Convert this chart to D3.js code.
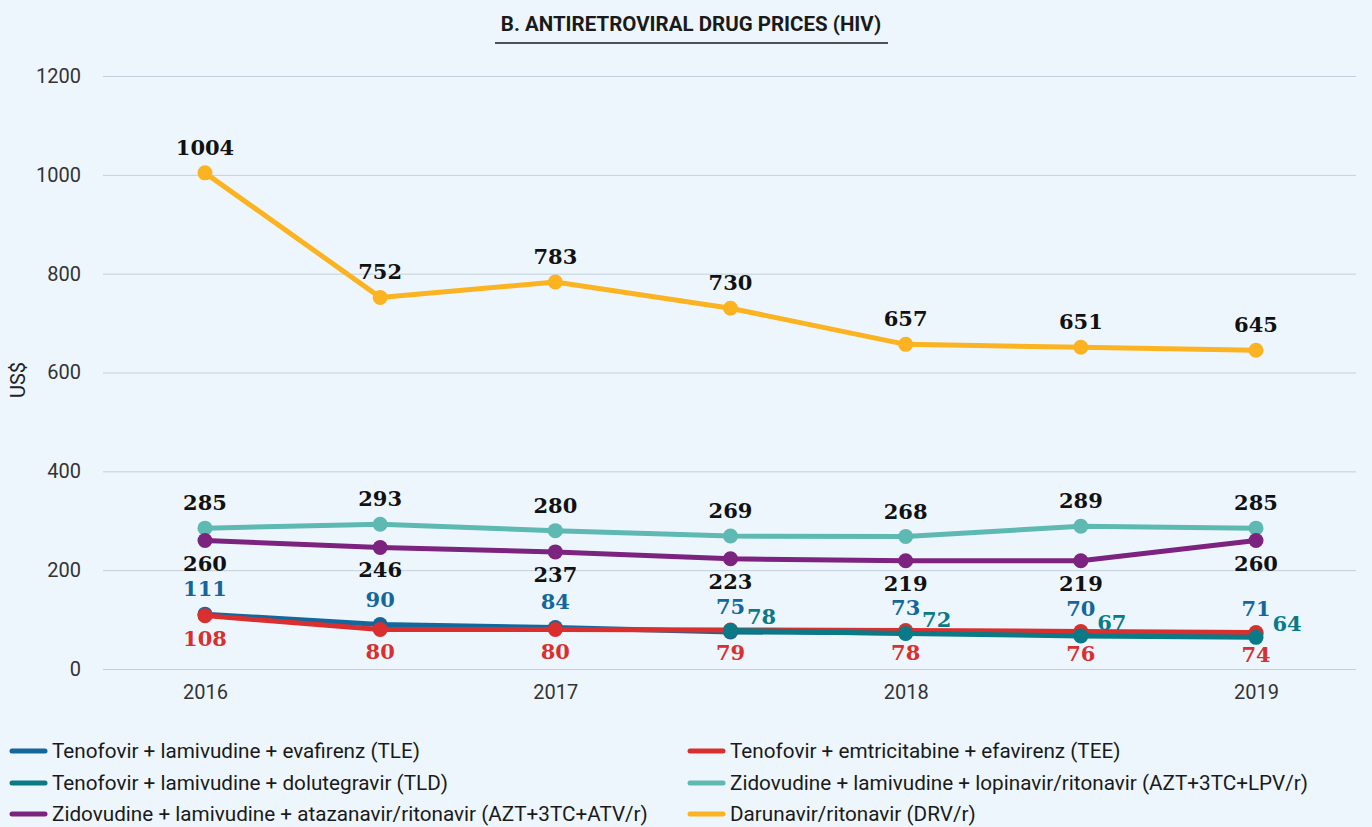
<!DOCTYPE html>
<html>
<head>
<meta charset="utf-8">
<script src="https://cdn.jsdelivr.net/npm/d3@7"></script>
<style>
  html, body { margin: 0; padding: 0; background: #eef6fd; }
  svg { display: block; }
</style>
</head>
<body>
<svg id="chart" width="1372" height="827"></svg>
<script>
const periods = ["2016", "2016.5", "2017", "2017.5", "2018", "2018.5", "2019"];
const tickLabels = ["2016", "", "2017", "", "2018", "", "2019"];
const yTicks = [0, 200, 400, 600, 800, 1000, 1200];

const tle = [111, 90, 84, 75, 73, 70, 71];
const tee = [108, 80, 80, 79, 78, 76, 74];
const tld = [null, null, null, 78, 72, 67, 64];
const lpv = [285, 293, 280, 269, 268, 289, 285];
const atv = [260, 246, 237, 223, 219, 219, 260];
const drv = [1004, 752, 783, 730, 657, 651, 645];

const seriesNames = [
  "Tenofovir + lamivudine + evafirenz (TLE)",
  "Tenofovir + emtricitabine + efavirenz (TEE)",
  "Tenofovir + lamivudine + dolutegravir (TLD)",
  "Zidovudine + lamivudine + lopinavir/ritonavir (AZT+3TC+LPV/r)",
  "Zidovudine + lamivudine + atazanavir/ritonavir (AZT+3TC+ATV/r)",
  "Darunavir/ritonavir (DRV/r)"
];
const colors = ["#13679c", "#d9302f", "#0a7a86", "#5db9b2", "#7c2380", "#fbb321"];
const labelColors = ["#13679c", "#d9302f", "#0a7a86", "#111", "#111", "#111"];
const labelPos = ["above", "below", "right", "above", "below", "above"];
const allData = [tle, tee, tld, lpv, atv, drv];
const drawOrder = [0, 1, 2, 3, 4, 5];

const svg = d3.select("#chart");
const W = 1372, H = 827;
const plot = { left: 103, right: 1356, top: 76, bottom: 669 };

const x = d3.scalePoint().domain(periods).range([205, 1256]);
const y = d3.scaleLinear().domain([0, 1200]).range([plot.bottom, plot.top]);

svg.append("rect").attr("width", W).attr("height", H).attr("fill", "#eef6fd");

// title
svg.append("text")
  .attr("x", 691).attr("y", 31)
  .attr("text-anchor", "middle")
  .attr("font-family", "Roboto, sans-serif")
  .attr("font-weight", "bold")
  .attr("font-size", 20.5)
  .attr("fill", "#1a1a1a")
  .text("B. ANTIRETROVIRAL DRUG PRICES (HIV)");
svg.append("line")
  .attr("x1", 495).attr("x2", 888).attr("y1", 43).attr("y2", 43)
  .attr("stroke", "#1a1a1a").attr("stroke-width", 1.5);

// grid + y axis
const yAxis = d3.axisLeft(y).tickValues(yTicks).tickSize(-(plot.right - plot.left))
  .tickPadding(22).tickFormat(d3.format("d"));
const gy = svg.append("g").attr("transform", `translate(${plot.left},0)`).call(yAxis);
gy.select(".domain").remove();
gy.selectAll(".tick line").attr("stroke", "#c3cfdc").attr("stroke-width", 1);
gy.selectAll(".tick text")
  .attr("font-family", "Roboto, sans-serif")
  .attr("font-size", 20)
  .attr("fill", "#333");

// x axis
const xAxis = d3.axisBottom(x).tickSize(0).tickPadding(16).tickFormat((d, i) => tickLabels[i]);
const gx = svg.append("g").attr("transform", `translate(0,${plot.bottom})`).call(xAxis);
gx.select(".domain").remove();
gx.selectAll(".tick text")
  .attr("font-family", "Roboto, sans-serif")
  .attr("font-size", 20)
  .attr("fill", "#333");

// y title
svg.append("text")
  .attr("transform", "translate(25,380) rotate(-90)")
  .attr("text-anchor", "middle")
  .attr("font-family", "Roboto, sans-serif")
  .attr("font-size", 20)
  .attr("fill", "#222")
  .text("US$");

// lines
const line = d3.line()
  .defined(d => d.v !== null)
  .x(d => x(d.p))
  .y(d => y(d.v));

drawOrder.forEach(si => {
  const pts = allData[si].map((v, i) => ({ p: periods[i], v }));
  const g = svg.append("g");
  g.append("path")
    .datum(pts)
    .attr("d", line)
    .attr("fill", "none")
    .attr("stroke", colors[si])
    .attr("stroke-width", 5)
    .attr("stroke-linejoin", "round");
  g.selectAll("circle")
    .data(pts.filter(d => d.v !== null))
    .join("circle")
    .attr("cx", d => x(d.p))
    .attr("cy", d => y(d.v))
    .attr("r", 7.5)
    .attr("fill", colors[si]);
});

// labels
allData.forEach((arr, si) => {
  const pts = arr.map((v, i) => ({ p: periods[i], v })).filter(d => d.v !== null);
  svg.append("g").selectAll("text")
    .data(pts)
    .join("text")
    .attr("x", d => x(d.p) + (labelPos[si] === "right" ? 31 : 0))
    .attr("y", d => {
      const cy = y(d.v);
      if (labelPos[si] === "above") return cy - 18;
      if (labelPos[si] === "below") return cy + 30;
      return cy - 6;
    })
    .attr("text-anchor", "middle")
    .attr("font-family", "'DejaVu Serif', serif")
    .attr("font-weight", "bold")
    .attr("font-size", 21)
    .attr("fill", labelColors[si])
    .text(d => d.v);
});

// legend
const legendItems = [
  { i: 0, x: 12, y: 751 },
  { i: 1, x: 690, y: 751 },
  { i: 2, x: 12, y: 783 },
  { i: 3, x: 690, y: 783 },
  { i: 4, x: 12, y: 814 },
  { i: 5, x: 690, y: 814 }
];
const lg = svg.append("g");
legendItems.forEach(it => {
  lg.append("line")
    .attr("x1", it.x).attr("x2", it.x + 33)
    .attr("y1", it.y).attr("y2", it.y)
    .attr("stroke", colors[it.i]).attr("stroke-width", 5)
    .attr("stroke-linecap", "round");
  lg.append("text")
    .attr("x", it.x + 40).attr("y", it.y + 7)
    .attr("font-family", "Roboto, sans-serif")
    .attr("font-size", 20.7)
    .attr("fill", "#1a1a1a")
    .text(seriesNames[it.i]);
});
</script>
</body>
</html>
